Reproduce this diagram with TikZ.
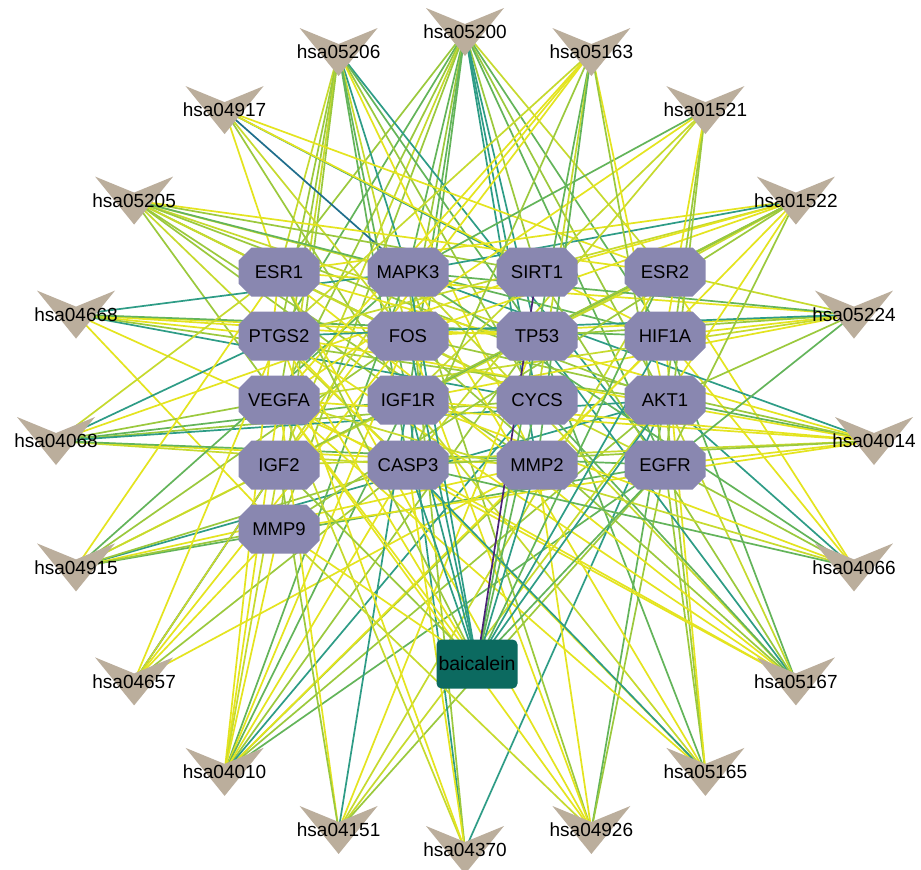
\documentclass[tikz,border=0pt]{standalone}
\usepackage{fontspec}
\setmainfont{Liberation Sans}
\pgfdeclarelayer{bglayer}
\pgfdeclarelayer{edgelayer}
\pgfsetlayers{bglayer,edgelayer,main}
\definecolor{cy}{HTML}{E4E41F}
\definecolor{cl}{HTML}{C6DA2E}
\definecolor{cg}{HTML}{9BC93D}
\definecolor{cm}{HTML}{63B45A}
\definecolor{ct}{HTML}{2E9C86}
\definecolor{cb}{HTML}{1F6E8C}
\definecolor{cP}{HTML}{4A2377}
\definecolor{genefill}{HTML}{8987B0}
\definecolor{pathfill}{HTML}{BBAE9C}
\definecolor{drugfill}{HTML}{0C6A60}
\tikzset{
  ed/.style={line width=1.7pt},
  genelbl/.style={font=\fontsize{18.5}{18.5}\selectfont, inner sep=0pt, text=black},
  pathlbl/.style={font=\fontsize{19}{19}\selectfont, inner sep=0pt, text=black},
  drugbox/.style={rectangle, rounded corners=5pt, fill=drugfill, minimum width=81pt,
    minimum height=49pt, inner sep=0pt, font=\fontsize{19.5}{19.5}\selectfont, text=black}
}
\newcommand\genenode[3]{%
  \fill[genefill] (#2,#3) ++(-40.5,-11.5) -- ++(13,-13) -- ++(55,0) -- ++(13,13)
    -- ++(0,23) -- ++(-13,13) -- ++(-55,0) -- ++(-13,-13) -- cycle;
  \node[genelbl] (#1) at (#2,#3) {#1};}
\begin{document}
\begin{tikzpicture}[x=1pt,y=-1pt]
\useasboundingbox (0,0) rectangle (921,870);
\begin{pgfonlayer}{bglayer}
  \fill[white] (0,0) rectangle (921,870);
\end{pgfonlayer}
% genes
\genenode{ESR1}{279}{272}
\genenode{MAPK3}{408}{272}
\genenode{SIRT1}{537}{272}
\genenode{ESR2}{665}{272}
\genenode{PTGS2}{279}{336}
\genenode{FOS}{408}{336}
\genenode{TP53}{537}{336}
\genenode{HIF1A}{665}{336}
\genenode{VEGFA}{279}{400}
\genenode{IGF1R}{408}{400}
\genenode{CYCS}{537}{400}
\genenode{AKT1}{665}{400}
\genenode{IGF2}{279}{465}
\genenode{CASP3}{408}{465}
\genenode{MMP2}{537}{465}
\genenode{EGFR}{665}{465}
\genenode{MMP9}{279}{529}
% drug
\node[drugbox] (baicalein) at (477,664) {baicalein};
% pathways
\foreach \lab [count=\k from 0] in {05200,05206,04917,05205,04668,04068,04915,04657,04010,04151,04370,04926,05165,05167,04066,04014,05224,01522,01521,05163} {
  \pgfmathsetmacro\px{465+409*cos(90+18*\k)}
  \pgfmathsetmacro\py{441-409*sin(90+18*\k)}
  \fill[pathfill] (\px,\py) ++(-39,-24) -- ++(39,16) -- ++(39,-16) -- ++(-39,48) -- cycle;
  \node[pathlbl] (p\lab) at (\px,\py) {hsa\lab};
}
% edges
\begin{pgfonlayer}{edgelayer}
\foreach \g/\c in {ESR1/g,MAPK3/m,SIRT1/g,ESR2/l,PTGS2/m,FOS/g,TP53/t,HIF1A/m,VEGFA/g,IGF1R/m,CYCS/t,AKT1/g,IGF2/l,CASP3/m,MMP2/t,EGFR/m,MMP9/g}
  \draw[ed,draw=c\c] (p05200.center) -- (\g.center);
\foreach \g/\c in {ESR1/l,MAPK3/t,PTGS2/g,FOS/l,VEGFA/g,IGF1R/m,CYCS/g,IGF2/l,CASP3/m,MMP2/y,EGFR/t,MMP9/g,TP53/m}
  \draw[ed,draw=c\c] (p05206.center) -- (\g.center);
\foreach \g/\c in {ESR1/y,MAPK3/b,SIRT1/t,HIF1A/y,FOS/l,IGF1R/g,ESR2/y}
  \draw[ed,draw=c\c] (p04917.center) -- (\g.center);
\foreach \g/\c in {MAPK3/l,SIRT1/g,ESR2/y,FOS/g,TP53/l,HIF1A/m,IGF1R/g,CYCS/l,AKT1/g,CASP3/l,MMP2/g,EGFR/l,VEGFA/g}
  \draw[ed,draw=c\c] (p05205.center) -- (\g.center);
\foreach \g/\c in {MAPK3/t,PTGS2/y,FOS/y,TP53/y,HIF1A/m,CYCS/t,CASP3/y,MMP9/y,AKT1/g}
  \draw[ed,draw=c\c] (p04668.center) -- (\g.center);
\foreach \g/\c in {PTGS2/t,ESR1/l,VEGFA/g,IGF1R/m,CYCS/g,AKT1/t,CASP3/l,MMP2/y,EGFR/m,SIRT1/y}
  \draw[ed,draw=c\c] (p04068.center) -- (\g.center);
\foreach \g/\c in {ESR1/y,MAPK3/m,FOS/g,IGF1R/y,AKT1/t,CASP3/g,MMP2/y,EGFR/m,MMP9/g,ESR2/l}
  \draw[ed,draw=c\c] (p04915.center) -- (\g.center);
\foreach \g/\c in {IGF2/b,MMP9/y,CASP3/g,FOS/y,PTGS2/y,MAPK3/l,MMP2/y}
  \draw[ed,draw=c\c] (p04657.center) -- (\g.center);
\foreach \g/\c in {ESR1/y,MAPK3/m,FOS/y,TP53/g,VEGFA/y,IGF1R/m,AKT1/g,CASP3/y,IGF2/l,EGFR/m,MMP2/g,HIF1A/y,MMP9/y,CYCS/t}
  \draw[ed,draw=c\c] (p04010.center) -- (\g.center);
\foreach \g/\c in {VEGFA/y,IGF1R/t,AKT1/l,IGF2/g,EGFR/g,TP53/y,ESR2/l}
  \draw[ed,draw=c\c] (p04151.center) -- (\g.center);
\foreach \g/\c in {VEGFA/l,PTGS2/y,IGF1R/t,AKT1/t,MAPK3/g,CASP3/y}
  \draw[ed,draw=c\c] (p04370.center) -- (\g.center);
\foreach \g/\c in {MAPK3/g,FOS/y,VEGFA/y,AKT1/m,EGFR/g,MMP2/y,MMP9/l,ESR1/y}
  \draw[ed,draw=c\c] (p04926.center) -- (\g.center);
\foreach \g/\c in {MAPK3/y,PTGS2/y,TP53/m,VEGFA/y,AKT1/g,CASP3/t,EGFR/g,IGF1R/l,HIF1A/y}
  \draw[ed,draw=c\c] (p05165.center) -- (\g.center);
\foreach \g/\c in {MAPK3/l,PTGS2/y,FOS/g,TP53/t,HIF1A/m,VEGFA/y,CYCS/m,AKT1/l,CASP3/y,ESR1/y,SIRT1/g}
  \draw[ed,draw=c\c] (p05167.center) -- (\g.center);
\foreach \g/\c in {MAPK3/m,HIF1A/y,VEGFA/l,IGF1R/y,AKT1/t,EGFR/g,CASP3/m,ESR2/y}
  \draw[ed,draw=c\c] (p04066.center) -- (\g.center);
\foreach \g/\c in {MAPK3/t,VEGFA/y,IGF1R/y,AKT1/m,EGFR/y,IGF2/l,FOS/g,PTGS2/y,MMP9/y,CASP3/g,ESR1/y}
  \draw[ed,draw=c\c] (p04014.center) -- (\g.center);
\foreach \g/\c in {ESR1/y,ESR2/l,MAPK3/m,FOS/y,TP53/g,IGF1R/y,AKT1/g,EGFR/m,HIF1A/y,PTGS2/t,VEGFA/l}
  \draw[ed,draw=c\c] (p05224.center) -- (\g.center);
\foreach \g/\c in {ESR1/y,ESR2/l,MAPK3/t,FOS/y,TP53/l,IGF1R/m,AKT1/y,EGFR/g,MMP2/y,MMP9/g,PTGS2/l,SIRT1/y,IGF2/g}
  \draw[ed,draw=c\c] (p01522.center) -- (\g.center);
\foreach \g/\c in {MAPK3/m,IGF1R/l,VEGFA/y,AKT1/g,EGFR/g,HIF1A/y,CASP3/l}
  \draw[ed,draw=c\c] (p01521.center) -- (\g.center);
\foreach \g/\c in {MAPK3/y,PTGS2/l,TP53/m,VEGFA/y,AKT1/y,CASP3/g,CYCS/l,EGFR/g,IGF2/y,MMP2/m}
  \draw[ed,draw=c\c] (p05163.center) -- (\g.center);
\foreach \g/\c in {ESR1/g,MAPK3/t,ESR2/m,PTGS2/y,FOS/t,TP53/m,HIF1A/t,VEGFA/y,IGF1R/t,CYCS/m,AKT1/t,IGF2/g,CASP3/t,MMP2/t,EGFR/m,MMP9/y,SIRT1/P}
  \draw[ed,draw=c\c] (baicalein.center) -- (\g.center);
\end{pgfonlayer}
\end{tikzpicture}
\end{document}
